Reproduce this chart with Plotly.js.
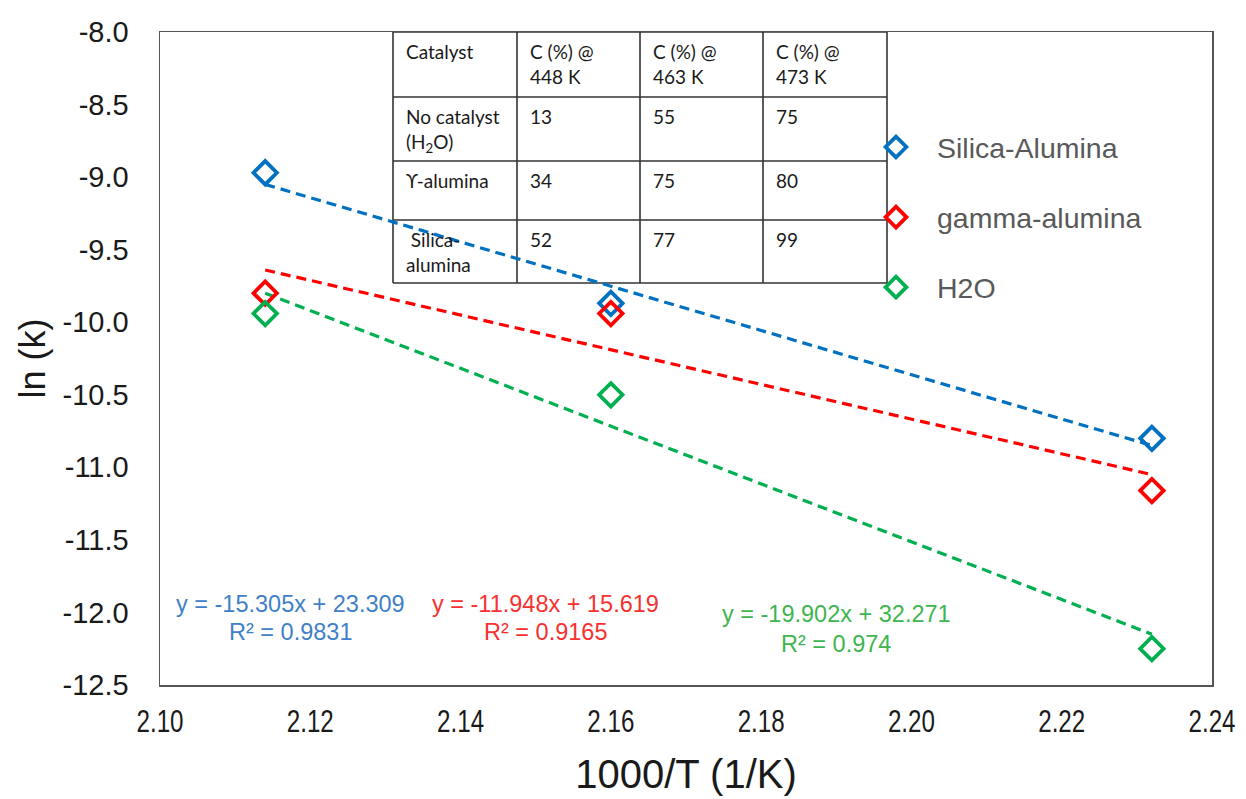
<!DOCTYPE html>
<html>
<head>
<meta charset="utf-8">
<script src="https://cdn.plot.ly/plotly-3.0.1.min.js"></script>
<style>
  html, body { margin: 0; padding: 0; background: #ffffff; }
  #chart { width: 1246px; height: 799px; }
</style>
</head>
<body>
<div id="chart"></div>
<script>
// ---- Data ----
const xInvT = [2.114, 2.160, 2.232];               // 1000/T (1/K)
const lnkSilicaAlumina = [-8.97, -9.87, -10.80];
const lnkGammaAlumina  = [-9.80, -9.94, -11.16];
const lnkH2O           = [-9.94, -10.50, -12.25];

const trendX = [2.114, 2.232];
const trendSilica = [-9.05, -10.85];
const trendGamma  = [-9.64, -11.05];
const trendH2O    = [-9.80, -12.15];

const seriesNames = ["Silica-Alumina", "gamma-alumina", "H2O"];
const eqLines = ["y = -15.305x + 23.309", "y = -11.948x + 15.619", "y = -19.902x + 32.271"];
const r2Lines = ["R² = 0.9831", "R² = 0.9165", "R² = 0.974"];

const xTickVals = [2.10, 2.12, 2.14, 2.16, 2.18, 2.20, 2.22, 2.24];
const xTickText = ["2.10", "2.12", "2.14", "2.16", "2.18", "2.20", "2.22", "2.24"];
const yTickVals = [-8.0, -8.5, -9.0, -9.5, -10.0, -10.5, -11.0, -11.5, -12.0, -12.5];
const yTickText = ["-8.0", "-8.5", "-9.0", "-9.5", "-10.0", "-10.5", "-11.0", "-11.5", "-12.0", "-12.5"];

// Inset table
const tableHeader = ["Catalyst", "C (%) @<br>448 K", "C (%) @<br>463 K", "C (%) @<br>473 K"];
const tableRowLabels = ["No catalyst<br>(H<sub>2</sub>O)", "ϒ-alumina", " Silica-<br>alumina"];
const convH2O    = [13, 55, 75];
const convGamma  = [34, 75, 80];
const convSilica = [52, 77, 99];

// ---- Styling ----
const colBlue = "#0070C0", colRed = "#FF0000", colGreen = "#00B050";
const eqColors = ["#3F80C8", "#F73030", "#3FB550"];
const arial = "'Liberation Sans', Arial, sans-serif";
const tableFont = "Lato, Carlito, Calibri, sans-serif";

// plot-area pixel frame (for placing overlay items)
const PL = 160, PR = 1212, PT = 32, PB = 685;
const px = v => (v - PL) / (PR - PL);
const py = v => (PB - v) / (PB - PT);

const markerStyle = c => ({ symbol: "diamond-open", size: 18, color: c, line: { width: 3.8, color: c } });
const dashStyle = c => ({ color: c, width: 3.2, dash: "10px,6px" });

const traces = [
  { x: trendX, y: trendSilica, mode: "lines", line: dashStyle(colBlue), showlegend: false, hoverinfo: "skip" },
  { x: trendX, y: trendGamma,  mode: "lines", line: dashStyle(colRed),  showlegend: false, hoverinfo: "skip" },
  { x: trendX, y: trendH2O,    mode: "lines", line: dashStyle(colGreen), showlegend: false, hoverinfo: "skip" },
  { x: xInvT, y: lnkSilicaAlumina, mode: "markers", name: seriesNames[0], legendgroup: "a", marker: markerStyle(colBlue) },
  { x: xInvT, y: lnkGammaAlumina,  mode: "markers", name: seriesNames[1], legendgroup: "b", marker: markerStyle(colRed) },
  { x: xInvT, y: lnkH2O,           mode: "markers", name: seriesNames[2], legendgroup: "c", marker: markerStyle(colGreen) }
];

// ---- Table shapes & text ----
const colEdges = [393, 517, 640, 763, 887];
const rowEdges = [32, 97, 161, 220, 283];
const shapes = [];
const lineCol = "#333333";
colEdges.forEach(cx => shapes.push({ type: "line", xref: "paper", yref: "paper", layer: "below",
  x0: px(cx), x1: px(cx), y0: py(rowEdges[0]), y1: py(rowEdges[rowEdges.length - 1]), line: { color: lineCol, width: 1.6 } }));
rowEdges.forEach(ry => shapes.push({ type: "line", xref: "paper", yref: "paper", layer: "below",
  x0: px(colEdges[0]), x1: px(colEdges[colEdges.length - 1]), y0: py(ry), y1: py(ry), line: { color: lineCol, width: 1.6 } }));

const annotations = [];
const cellText = (txt, ci, ri) => annotations.push({
  xref: "paper", yref: "paper", x: px(colEdges[ci] + 11), y: py(rowEdges[ri] + 6),
  xanchor: "left", yanchor: "top", align: "left", showarrow: false, text: txt,
  font: { family: tableFont, size: 19, color: "#1a1a1a" }
});
tableHeader.forEach((t, ci) => cellText(t, ci, 0));
const tableRows = [convH2O, convGamma, convSilica];
tableRowLabels.forEach((lab, ri) => {
  cellText(lab, 0, ri + 1);
  tableRows[ri].forEach((v, ci) => cellText(String(v), ci + 1, ri + 1));
});

// ---- Equation annotations ----
const eqPos = [[290, 604, 632], [545, 604, 632], [836, 614, 644]];
eqLines.forEach((t, i) => {
  annotations.push({ xref: "paper", yref: "paper", x: px(eqPos[i][0]), y: py(eqPos[i][1]), xanchor: "center", yanchor: "middle",
    showarrow: false, text: t, font: { family: arial, size: 23.5, color: eqColors[i] } });
  annotations.push({ xref: "paper", yref: "paper", x: px(eqPos[i][0]), y: py(eqPos[i][2]), xanchor: "center", yanchor: "middle",
    showarrow: false, text: r2Lines[i], font: { family: arial, size: 23.5, color: eqColors[i] } });
});

const layout = {
  width: 1246, height: 799,
  margin: { l: PL, r: 1246 - PR, t: PT, b: 799 - PB },
  paper_bgcolor: "#ffffff", plot_bgcolor: "#ffffff",
  showlegend: true,
  legend: {
    x: px(855), y: py(122), xanchor: "left", yanchor: "top",
    traceorder: "grouped", tracegroupgap: 30, itemsizing: "trace", itemwidth: 72,
    bgcolor: "rgba(0,0,0,0)", font: { family: arial, size: 28.5, color: "#595959" }
  },
  xaxis: {
    range: [2.10, 2.24], tickmode: "array", tickvals: xTickVals, ticktext: xTickText,
    showgrid: false, zeroline: false, showline: true, mirror: true, linecolor: "#555555", linewidth: 1.5,
    ticks: "", ticklabelstandoff: 8,
    tickfont: { family: arial, size: 31, color: "#1a1a1a" },
    title: { text: "1000/T (1/K)", font: { family: arial, size: 40, color: "#1a1a1a" }, standoff: 22 }
  },
  yaxis: {
    range: [-12.5, -8.0], tickmode: "array", tickvals: yTickVals, ticktext: yTickText,
    showgrid: false, zeroline: false, showline: true, mirror: true, linecolor: "#555555", linewidth: 1.5,
    ticks: "", ticklabelstandoff: 24,
    tickfont: { family: arial, size: 29, color: "#1a1a1a" },
    title: { text: "ln (k)", font: { family: arial, size: 36, color: "#1a1a1a" }, standoff: 6 }
  },
  shapes: shapes,
  annotations: annotations
};

// compress text horizontally to a target width (reference uses a condensed face)
function squeezeTo(selector, targetWidth) {
  document.querySelectorAll(selector).forEach(el => {
    const len = el.getComputedTextLength();
    if (len > targetWidth) {
      el.setAttribute("textLength", String(targetWidth));
      el.setAttribute("lengthAdjust", "spacingAndGlyphs");
    }
  });
}

Plotly.newPlot("chart", traces, layout, { staticPlot: true, displayModeBar: false }).then(() => {
  squeezeTo(".xtick text", 47);
  squeezeTo(".g-xtitle text", 230);
});
</script>
</body>
</html>
